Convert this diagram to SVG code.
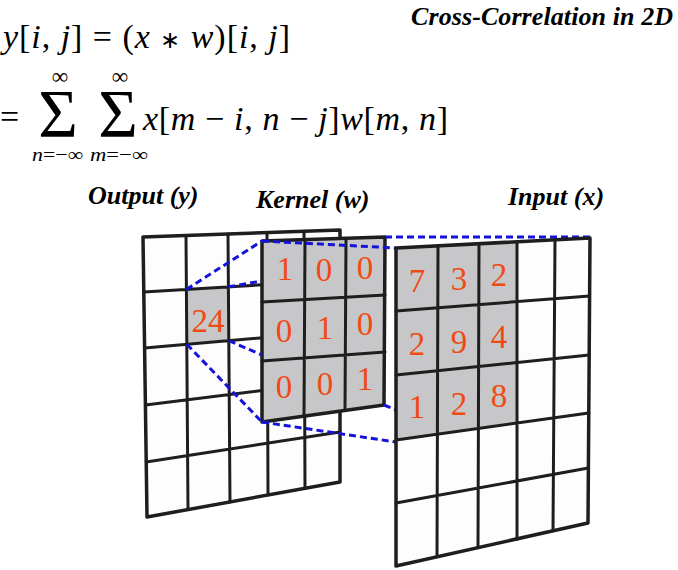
<svg xmlns="http://www.w3.org/2000/svg" width="678" height="570" viewBox="0 0 678 570">
<style>
.math{font-family:"Liberation Serif","Times New Roman",serif;fill:#000}
.it{font-style:italic}
.lab{font-family:"Liberation Serif","Times New Roman",serif;font-style:italic;font-weight:bold;font-size:26px;fill:#000}
.num{font-family:"Liberation Serif","Times New Roman",serif;font-size:33px;fill:#f04a14;text-anchor:middle}
.bg{fill:#fdfdfd}
.gray{fill:#c7c7c9}
.gl{stroke:#1e1e1e;stroke-width:3;stroke-linecap:round;fill:none}
.bd{stroke:#1e1e1e;stroke-width:3.5;stroke-linejoin:round;fill:none}
.dash{stroke:#1414d8;stroke-width:3;stroke-dasharray:7 4;fill:none}
</style>

<g id="formula">
<text class="math" x="3" y="48" font-size="34" textLength="287" lengthAdjust="spacing"><tspan class="it">y</tspan>[<tspan class="it">i</tspan>, <tspan class="it">j</tspan>] = (<tspan class="it">x</tspan> <tspan font-size="24">∗</tspan> <tspan class="it">w</tspan>)[<tspan class="it">i</tspan>, <tspan class="it">j</tspan>]</text>
<text class="math" x="0" y="128" font-size="34">=</text>
<text class="math" x="58" y="136" font-size="68" text-anchor="middle">Σ</text>
<text class="math" x="118" y="136" font-size="68" text-anchor="middle">Σ</text>
<text class="math" x="60" y="84" font-size="23" text-anchor="middle">∞</text>
<text class="math" x="120" y="84" font-size="23" text-anchor="middle">∞</text>
<text class="math" x="32" y="161" font-size="19" textLength="51" lengthAdjust="spacingAndGlyphs"><tspan class="it">n</tspan>=−∞</text>
<text class="math" x="90" y="161" font-size="19" textLength="58" lengthAdjust="spacingAndGlyphs"><tspan class="it">m</tspan>=−∞</text>
<text class="math" x="143" y="130" font-size="34" textLength="305" lengthAdjust="spacing"><tspan class="it">x</tspan>[<tspan class="it">m</tspan> − <tspan class="it">i</tspan>, <tspan class="it">n</tspan> − <tspan class="it">j</tspan>]<tspan class="it">w</tspan>[<tspan class="it">m</tspan>, <tspan class="it">n</tspan>]</text>
</g>

<g id="title">
<text class="lab" x="411" y="25" textLength="262" lengthAdjust="spacing">Cross-Correlation in 2D</text>
</g>

<g id="labels">
<text class="lab" x="88" y="204">Output (y)</text>
<text class="lab" x="256" y="208">Kernel (w)</text>
<text class="lab" x="508" y="205">Input (x)</text>
</g>

<g id="output">
<polygon class="bg" points="143,237 340,230 340,482 147,517"/>
<polygon class="gray" points="186.4,289.4 228.4,286.8 228.8,340.7 186.8,344.3"/>
<path class="gl" d="M143.8,292 L340,280 M144.6,348 L340,331 M145.4,405 L340,381 M146.2,462 L340,432 M186,235.5 L188,509.4 M228,234 L230,501.9 M267,232.6 L268,495 M304,231.3 L305,488.4"/>
<polygon class="bd" points="143,237 340,230 340,482 147,517"/>
<text class="num" x="208" y="332">24</text>
</g>

<g id="kernel">
<polygon class="gray" points="262,241 385,237 384,405 262,422"/>
<path class="gl" d="M262,302 L385,295 M262,361 L385,352 M305,239.6 L304,416 M346,238.3 L345,410.4"/>
<polygon class="bd" points="262,241 385,237 384,405 262,422"/>
<text class="num" x="285" y="280">1</text>
<text class="num" x="324" y="281">0</text>
<text class="num" x="365" y="279">0</text>
<text class="num" x="284" y="342">0</text>
<text class="num" x="325" y="339">1</text>
<text class="num" x="365" y="335">0</text>
<text class="num" x="284" y="398">0</text>
<text class="num" x="325" y="395">0</text>
<text class="num" x="365" y="390">1</text>
</g>

<g id="connectors">
<path class="dash" d="M186.4,289.4 L262,241"/>
<path class="dash" d="M228.4,286.8 L262,281"/>
<path class="dash" d="M186.8,344.3 L262,422"/>
<path class="dash" d="M228.8,340.7 L262,355"/>
<path class="dash" d="M262,422 L396,442"/>
<path class="dash" d="M384,405 L396,410"/>
<path class="dash" d="M262,241 L396,248"/>
<path class="dash" d="M385,237 L590,237"/>
</g>

<g id="input">
<polygon class="bg" points="396,248 590,238 588,523 396,566"/>
<polygon class="gray" points="396,248 517,241.8 517,423.2 396,440"/>
<path class="gl" d="M396,311 L589.6,296 M396,375 L589.2,355 M396,440 L588.8,413 M396,503 L588.4,468 M438,245.8 L437,556.7 M479,243.7 L478,547.6 M517,241.8 L517,539.2 M555,239.8 L553,530.7"/>
<polygon class="bd" points="396,248 590,238 588,523 396,566"/>
<text class="num" x="417" y="292">7</text>
<text class="num" x="459" y="290">3</text>
<text class="num" x="499" y="286">2</text>
<text class="num" x="417" y="355">2</text>
<text class="num" x="459" y="353">9</text>
<text class="num" x="499" y="348">4</text>
<text class="num" x="417" y="418">1</text>
<text class="num" x="459" y="415">2</text>
<text class="num" x="499" y="407">8</text>
</g>
</svg>
